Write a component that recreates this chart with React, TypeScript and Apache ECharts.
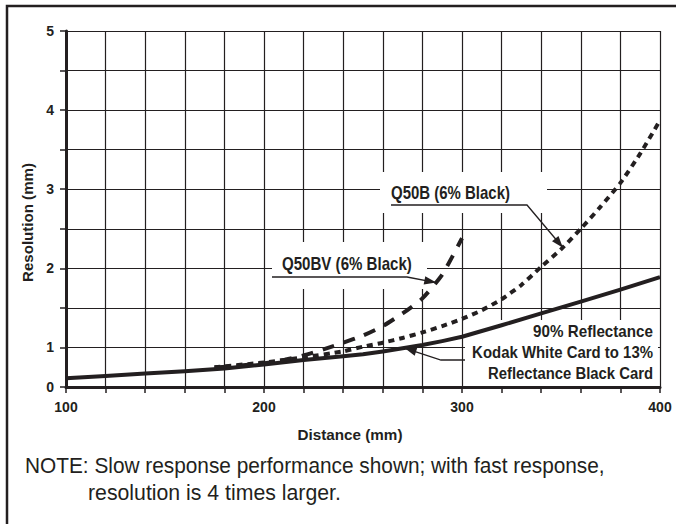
import React, { useEffect, useRef } from 'react';
import * as echarts from 'echarts';

// ---- data ----
const distanceMin = 100;
const distanceMax = 400;
const distanceStep = 20;
const xTickLabels = [100, 200, 300, 400];
const yTickLabels = [0, 1, 2, 3, 4, 5];

// 90% Reflectance Kodak White Card to 13% Reflectance Black Card (solid)
const solidDistance = [100, 120, 140, 160, 180, 200, 220, 240, 250, 260, 270, 280, 290, 300, 320, 340, 360, 380, 400];
const solidResolution = [0.22, 0.28, 0.34, 0.4, 0.47, 0.57, 0.68, 0.78, 0.83, 0.9, 0.98, 1.03, 1.08, 1.135, 1.28, 1.43, 1.58, 1.73, 1.89];

// Q50B (6% Black) (dotted)
const dottedDistance = [175, 200, 220, 240, 250, 260, 270, 280, 290, 300, 310, 320, 330, 340, 350, 360, 370, 380, 390, 400];
const dottedResolution = [0.5, 0.62, 0.75, 0.9, 1.01, 1.06, 1.12, 1.19, 1.27, 1.36, 1.47, 1.61, 1.79, 2.02, 2.24, 2.5, 2.78, 3.08, 3.45, 3.87];

// Q50BV (6% Black) (dashed)
const dashedDistance = [175, 200, 210, 220, 230, 240, 250, 260, 270, 280, 290, 300];
const dashedResolution = [0.49, 0.6, 0.68, 0.8, 0.95, 1.06, 1.15, 1.27, 1.43, 1.62, 1.92, 2.38];

// annotation anchors (distance, resolution) where the arrows point
const anchorQ50B = [351, 2.26];
const anchorQ50BV = [287, 1.82];
const anchorKodak = [271, 0.985];

const INK = '#231f20';
const FONT = '"Liberation Sans", Arial, sans-serif';

// the 0..1 band of the chart is drawn at half the height of the other bands
const toAxis = (v: number) => (v < 1 ? 0.5 + v / 2 : v);
const fromAxis = (a: number) => (a < 1 ? (a - 0.5) * 2 : a);

const measureCtx = (() => {
  const c = document.createElement('canvas');
  return c.getContext('2d') as CanvasRenderingContext2D;
})();
function fitScale(text: string, size: number, weight: string, target: number) {
  measureCtx.font = `${weight} ${size}px "Liberation Sans"`;
  const w = measureCtx.measureText(text).width;
  return w > 0 ? target / w : 1;
}

function txt(text: string, x: number, y: number, size: number, weight: string, target: number, align: string, extra: any = {}) {
  return {
    type: 'text',
    x,
    y,
    z: 10,
    scaleX: fitScale(text, size, weight, target),
    ...extra,
    style: {
      text,
      fontSize: size,
      fontWeight: weight,
      fontFamily: FONT,
      fill: INK,
      align,
      textAlign: align,
      verticalAlign: 'middle',
      textVerticalAlign: 'middle',
    },
  };
}

function arrowHead(from: number[], tip: number[], len = 12, half = 4.2) {
  const dx = tip[0] - from[0];
  const dy = tip[1] - from[1];
  const l = Math.hypot(dx, dy) || 1;
  const ux = dx / l;
  const uy = dy / l;
  const bx = tip[0] - ux * len;
  const by = tip[1] - uy * len;
  return {
    type: 'polygon',
    z: 10,
    shape: { points: [tip, [bx - uy * half, by + ux * half], [bx + uy * half, by - ux * half]] },
    style: { fill: INK },
  };
}

function leader(points: number[][]) {
  return {
    type: 'polyline',
    z: 10,
    shape: { points },
    style: { stroke: INK, lineWidth: 1.3, fill: 'none' },
  };
}

function whiteBox(x: number, y: number, w: number, h: number) {
  return { type: 'rect', z: 1, shape: { x, y, width: w, height: h }, style: { fill: '#ffffff' } };
}

export default function App() {
  const ref = useRef<HTMLDivElement>(null);

  useEffect(() => {
    if (!ref.current) return;
    const chart = echarts.init(ref.current, null, { renderer: 'svg' });

    const lineSeries = (xs: number[], ys: number[], type: any, name: string, smooth: number) => ({
      name,
      type: 'line',
      data: xs.map((d, i) => [d, toAxis(ys[i])]),
      symbol: 'none',
      showSymbol: false,
      smooth,
      z: 3,
      lineStyle: { color: INK, width: 4, type, cap: 'butt', join: 'round' },
    });

    chart.setOption({
      animation: false,
      backgroundColor: '#ffffff',
      grid: { left: 66, right: 16, top: 31, bottom: 137 },
      xAxis: {
        type: 'value',
        min: distanceMin,
        max: distanceMax,
        interval: distanceStep,
        axisLine: { show: true, lineStyle: { color: INK, width: 3 } },
        axisTick: { show: true, inside: false, length: 6, lineStyle: { color: INK, width: 1.5 } },
        splitLine: { show: true, lineStyle: { color: INK, width: 1.2 } },
        axisLabel: {
          margin: 13,
          color: INK,
          fontFamily: FONT,
          fontWeight: 'bold',
          fontSize: 14,
          formatter: (v: number) => (xTickLabels.includes(Math.round(v)) ? String(Math.round(v)) : ''),
        },
      },
      yAxis: {
        type: 'value',
        min: 0.5,
        max: 5,
        interval: 0.5,
        axisLine: { show: true, lineStyle: { color: INK, width: 3 } },
        axisTick: { show: true, inside: false, length: 6, lineStyle: { color: INK, width: 1.5 } },
        splitLine: { show: true, lineStyle: { color: INK, width: 1.2 } },
        axisLabel: {
          margin: 12,
          color: INK,
          fontFamily: FONT,
          fontWeight: 'bold',
          fontSize: 14,
          formatter: (a: number) => {
            const v = Math.round(fromAxis(a) * 1000) / 1000;
            return yTickLabels.includes(v) ? String(v) : '';
          },
        },
      },
      series: [
        lineSeries(solidDistance, solidResolution, 'solid', '90% Reflectance Kodak White Card to 13% Reflectance Black Card', 0),
        lineSeries(dottedDistance, dottedResolution, [6, 5], 'Q50B (6% Black)', 0.2),
        lineSeries(dashedDistance, dashedResolution, [12, 10], 'Q50BV (6% Black)', 0.2),
      ],
    });

    const px = (p: number[]) => chart.convertToPixel({ gridIndex: 0 }, [p[0], toAxis(p[1])]) as number[];
    const tipB = px(anchorQ50B);
    const tipBV = px(anchorQ50BV);
    const tipK = px(anchorKodak);

    const bElbow = [527, 205];
    const bvElbow = [407, 277];
    const kElbow = [441, 360];

    chart.setOption({
      graphic: [
        // outer frame
        { type: 'rect', z: 20, shape: { x: 7, y: 6, width: 700, height: 600 }, style: { fill: 'none', stroke: INK, lineWidth: 2.5 } },
        // white label backgrounds
        whiteBox(380, 172, 167, 41),
        whiteBox(272, 242, 155, 47),
        whiteBox(465, 320, 193, 66),
        // Q50B label
        txt('Q50B (6% Black)', 391, 193, 18, 'bold', 119, 'left'),
        leader([[391, 205], bElbow, tipB]),
        arrowHead(bElbow, tipB),
        // Q50BV label
        txt('Q50BV (6% Black)', 282, 264, 18, 'bold', 130, 'left'),
        leader([[272, 277], bvElbow, tipBV]),
        arrowHead(bvElbow, tipBV),
        // Kodak label
        txt('90% Reflectance', 653, 331, 16, 'bold', 120, 'right'),
        txt('Kodak White Card to 13%', 653, 352, 16, 'bold', 181, 'right'),
        txt('Reflectance Black Card', 653, 373, 16, 'bold', 165, 'right'),
        leader([[465, 360], kElbow, tipK]),
        arrowHead(kElbow, tipK),
        // axis titles
        txt('Distance (mm)', 350, 435, 15, 'bold', 105, 'center'),
        txt('Resolution (mm)', 27.5, 222.5, 15, 'bold', 119, 'center', { rotation: Math.PI / 2 }),
        // note
        txt('NOTE: Slow response performance shown; with fast response,', 25, 466, 22, 'normal', 580, 'left'),
        txt('resolution is 4 times larger.', 88, 492, 22, 'normal', 253, 'left'),
      ],
    });

    return () => chart.dispose();
  }, []);

  return (
    <div
      ref={ref}
      style={{ position: 'fixed', left: 0, top: 0, width: 676, height: 524, background: '#ffffff' }}
    />
  );
}
